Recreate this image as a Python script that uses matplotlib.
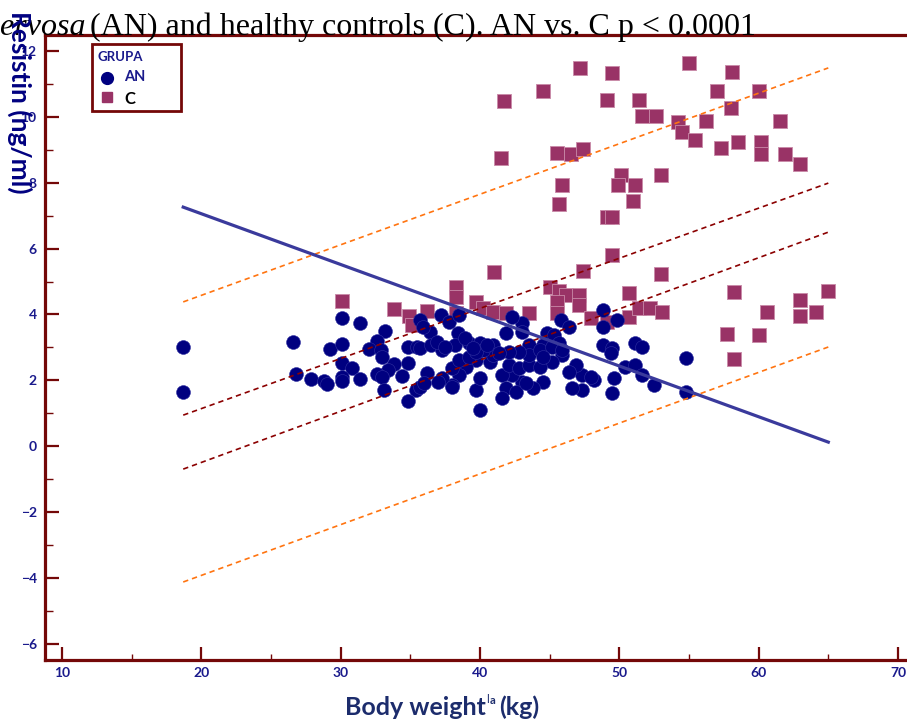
import matplotlib
matplotlib.use("Agg")
import matplotlib.pyplot as plt
from matplotlib.patches import Rectangle
from matplotlib.lines import Line2D
from matplotlib.ticker import MultipleLocator

# ---- data ---------------------------------------------------------------
an_weight = [18.7, 18.7, 26.6, 26.8, 27.9, 28.8, 29.0, 29.2, 30.1, 31.4, 30.1, 30.1,
             30.8, 30.1, 30.1, 31.4, 33.2, 32.6, 32.0, 32.9, 33.0, 33.8, 33.4, 32.6,
             33.0, 34.4, 33.1, 34.8, 35.5, 34.8, 35.4, 34.8, 35.7, 36.2, 36.0, 35.7,
             37.2, 37.8, 38.5, 36.4, 35.9, 38.4, 35.7, 36.5, 37.3, 38.2, 39.2, 40.0,
             40.9, 41.9, 43.0, 42.3, 43.0, 43.5, 44.8, 45.3, 45.8, 46.4, 45.7, 44.5,
             48.8, 48.8, 49.8, 48.8, 49.5, 49.4, 51.1, 51.6, 54.8, 54.8, 50.4, 51.1,
             51.6, 52.5, 49.6, 49.5, 48.2, 47.3, 47.3, 46.6, 46.9, 45.9, 45.2, 44.5,
             43.8, 43.0, 42.3, 41.6, 41.9, 42.6, 43.3, 41.6, 40.0, 39.7, 40.0, 40.7,
             40.9, 39.7, 39.0, 38.5, 38.0, 37.3, 38.0, 38.5, 39.2, 42.1, 42.8, 43.5,
             44.3, 43.5, 42.8, 42.1, 41.4, 40.2, 39.7, 44.3, 45.2, 45.9, 44.5, 48.0,
             46.4, 38.9, 39.5, 40.5, 36.9, 37.5, 37.0, 38.0]
an_resistin = [3.01, 1.64, 3.16, 2.19, 2.04, 1.98, 1.88, 2.95, 3.89, 3.74, 3.10, 2.52,
               2.37, 2.10, 1.98, 2.04, 3.50, 3.19, 2.95, 2.92, 2.71, 2.49, 2.31, 2.19,
               2.10, 2.13, 1.70, 3.01, 3.01, 2.52, 1.70, 1.37, 1.79, 2.22, 1.91, 3.83,
               3.98, 3.77, 3.98, 3.47, 3.62, 3.43, 2.98, 3.07, 2.92, 3.07, 3.13, 3.13,
               3.07, 3.43, 3.74, 3.92, 3.47, 3.07, 3.43, 3.37, 3.83, 3.62, 3.13, 3.07,
               4.13, 3.62, 3.83, 3.07, 2.98, 2.83, 3.13, 3.01, 2.67, 1.64, 2.40, 2.46,
               2.16, 1.85, 2.07, 1.61, 2.01, 2.16, 1.70, 1.76, 2.46, 2.77, 2.55, 1.95,
               1.76, 1.95, 2.16, 2.16, 1.76, 1.64, 1.91, 1.46, 1.09, 1.70, 2.07, 2.55,
               2.77, 2.61, 2.40, 2.16, 1.85, 2.07, 2.37, 2.61, 2.71, 2.46, 2.37, 2.46,
               2.40, 2.77, 2.86, 2.86, 2.83, 2.92, 2.86, 2.92, 3.01, 2.92, 2.71, 2.10,
               2.25, 3.28, 2.98, 3.07, 3.16, 3.01, 1.95, 1.79]

c_weight = [41.7, 44.5, 47.2, 49.5, 49.1, 51.4, 51.6, 52.6, 55.0, 58.1, 57.0, 60.0,
            58.0, 56.2, 54.2, 54.5, 55.4, 57.3, 58.5, 60.2, 60.2, 61.5, 61.9, 63.0,
            41.5, 45.5, 46.5, 47.4, 50.1, 49.9, 51.1, 53.0, 45.9, 45.7, 51.0, 49.1,
            49.5, 49.5, 41.0, 47.4, 53.0, 58.2, 60.6, 63.0, 63.0, 64.1, 65.0, 57.7,
            60.0, 58.2, 30.1, 33.8, 34.9, 35.1, 36.2, 38.3, 38.3, 38.3, 39.7, 40.2,
            40.9, 41.9, 43.5, 45.0, 45.7, 46.2, 45.5, 45.5, 47.1, 47.1, 48.0, 49.1,
            50.7, 50.7, 51.4, 52.2, 53.1]
c_resistin = [10.49, 10.79, 11.49, 11.34, 10.52, 10.52, 10.03, 10.03, 11.64, 11.37, 10.79, 10.79,
              10.27, 9.88, 9.85, 9.54, 9.30, 9.06, 9.24, 9.24, 8.88, 9.88, 8.88, 8.57,
              8.75, 8.91, 8.88, 9.03, 8.24, 7.93, 7.93, 8.24, 7.93, 7.36, 7.45, 6.96,
              6.96, 5.81, 5.29, 5.32, 5.23, 4.68, 4.07, 4.44, 3.95, 4.07, 4.71, 3.40,
              3.37, 2.64, 4.41, 4.16, 3.95, 3.68, 4.10, 4.83, 4.53, 4.04, 4.38, 4.19,
              4.07, 4.04, 4.04, 4.83, 4.71, 4.59, 4.38, 4.04, 4.59, 4.29, 3.89, 3.77,
              4.65, 3.92, 4.19, 4.19, 4.07]

# fitted line and its bands (end points)
line_x = [18.7, 65.0]
fit_y = [7.26, 0.12]
ci_upper = [0.94, 7.99]
ci_lower = [-0.70, 6.50]
pi_upper = [4.38, 11.49]
pi_lower = [-4.13, 3.01]

x_ticks = [10, 20, 30, 40, 50, 60, 70]
y_ticks = [-6, -4, -2, 0, 2, 4, 6, 8, 10, 12]

# ---- styling ------------------------------------------------------------
W, H = 907, 723
FRAME = "#740808"
NAVY = "#000080"
TICKTXT = "#1a1a8c"
PURPLE = "#993366"

def fx(px):
    return px / W

def fy(py):
    return 1 - py / H

fig = plt.figure(figsize=(W / 100, H / 100), dpi=100)
ax = fig.add_axes([fx(45), fy(660), fx(907 - 45) + 0.01, (660 - 35) / H])
ax.set_xlim(8.78, 71.3)
ax.set_ylim(-6.5, 12.49)

ax.scatter(c_weight, c_resistin, marker="s", s=88, color=PURPLE,
           edgecolors="#c98aa8", linewidths=0.6, zorder=2)
ax.scatter(an_weight, an_resistin, marker="o", s=100, color=NAVY,
           edgecolors="#3030a0", linewidths=0.4, zorder=3)

dash = (3.2, 2.4)
ax.plot(line_x, pi_upper, color="#ff7410", lw=1.2, dashes=dash, zorder=4)
ax.plot(line_x, pi_lower, color="#ff7410", lw=1.2, dashes=dash, zorder=4)
ax.plot(line_x, ci_upper, color="#8b0000", lw=1.2, dashes=dash, zorder=4)
ax.plot(line_x, ci_lower, color="#8b0000", lw=1.2, dashes=dash, zorder=4)
ax.plot(line_x, fit_y, color="#3a3a9c", lw=2.3, zorder=5)

for side in ("left", "bottom", "top"):
    ax.spines[side].set_color(FRAME)
    ax.spines[side].set_linewidth(2.3)
ax.spines["right"].set_visible(False)

ax.set_xticks(x_ticks)
ax.set_yticks(y_ticks)
ax.xaxis.set_minor_locator(MultipleLocator(5))
ax.yaxis.set_minor_locator(MultipleLocator(1))
ax.tick_params(axis="both", which="major", direction="in", color=FRAME,
               width=1.6, labelcolor=TICKTXT)
ax.tick_params(axis="y", which="major", length=10, pad=6)
ax.tick_params(axis="x", which="major", length=9.5, pad=5)
ax.tick_params(axis="y", which="minor", direction="in", length=5.8, width=1.0, color=FRAME)
ax.tick_params(axis="x", which="minor", direction="in", length=4.3, width=1.0, color=FRAME)
ax.tick_params(top=False, right=False, which="both")
for lab in ax.get_xticklabels() + ax.get_yticklabels():
    lab.set_fontfamily("Lato")
    lab.set_fontweight("bold")
    lab.set_fontsize(10)

# title (runs off the left edge)
fig.text(fx(86), fy(35), "nervosa", ha="right", va="baseline",
         family="Liberation Serif", style="italic", fontsize=23, color="black")
fig.text(fx(90), fy(35), "(AN) and healthy controls (C). AN vs. C p < 0.0001",
         ha="left", va="baseline", family="Liberation Serif", fontsize=23,
         color="black")

# axis titles
fig.text(fx(20), fy(102), "Resistin (ng/ml)", rotation=270, ha="center",
         va="center", family="Lato", fontweight="bold", fontsize=19, color=NAVY)
fig.text(fx(486), fy(715), "Body weight", ha="right", va="baseline",
         family="Lato", fontweight="bold", fontsize=18, color="#1c2c6c")
fig.text(fx(486), fy(703), "l", ha="left", va="baseline",
         family="Lato", fontsize=8, color="#1c2c6c")
fig.text(fx(490), fy(704), "a", ha="left", va="baseline",
         family="Lato", fontweight="bold", fontsize=8, color="#1c2c6c")
fig.text(fx(499), fy(715), "(kg)", ha="left", va="baseline",
         family="Lato", fontweight="bold", fontsize=18, color="#1c2c6c")

# legend box
fig.add_artist(Rectangle((fx(92), fy(111)), fx(181 - 92), (111 - 44) / H,
                         transform=fig.transFigure, fill=True, facecolor="white",
                         edgecolor=FRAME, linewidth=2.0, zorder=10))
fig.text(fx(98), fy(57), "GRUPA", ha="left", va="center", family="Lato",
         fontweight="bold", fontsize=9.5, color=TICKTXT, zorder=11)
fig.add_artist(Line2D([fx(107)], [fy(78)], marker="o", markersize=8.5,
                      color=NAVY, transform=fig.transFigure, zorder=11))
fig.text(fx(124), fy(77), "AN", ha="left", va="center", family="Lato",
         fontweight="bold", fontsize=10.5, color=TICKTXT, zorder=11)
fig.add_artist(Line2D([fx(107)], [fy(97)], marker="s", markersize=7.5,
                      color=PURPLE, transform=fig.transFigure, zorder=11))
fig.text(fx(124), fy(99), "C", ha="left", va="center", family="Lato",
         fontweight="bold", fontsize=12, color="black", zorder=11)

fig.savefig("out.png", dpi=100)
